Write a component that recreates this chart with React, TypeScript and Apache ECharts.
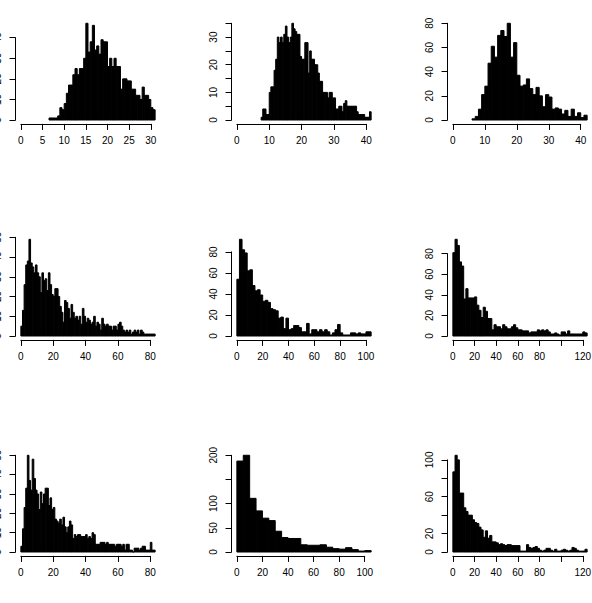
import React, { useEffect, useRef } from "react";
import * as echarts from "echarts";

// ---------- data: histogram counts (start of first bin, bin width, counts) ----------
const p1Start = 6.5;
const p1Width = 0.5;
const p1Counts = [1, 1, 1, 1, 2, 6, 5, 8, 13, 17, 17, 22, 25, 22, 25, 25, 30, 47, 33, 38, 46, 34, 36, 32, 39, 38, 38, 26, 30, 26, 30, 26, 26, 15, 20, 20, 19, 19, 15, 15, 12, 12, 10, 16, 12, 12, 10, 6, 5];

const p2Start = 7.5;
const p2Width = 0.5;
const p2Counts = [1, 4, 4, 2, 2, 10, 12, 12, 18, 22, 30, 28, 30, 28, 31, 34, 30, 28, 30, 35, 33, 32, 31, 31, 23, 22, 22, 28, 28, 17, 25, 22, 22, 20, 20, 17, 14, 14, 10, 10, 10, 8, 10, 10, 8, 8, 4, 4, 5, 5, 3, 6, 7, 5, 5, 5, 5, 5, 5, 3, 2, 2, 2, 2, 1, 1, 1, 3];

const p3Start = 6;
const p3Width = 1;
const p3Counts = [1, 3, 9, 21, 28, 47, 61, 52, 70, 74, 69, 80, 52, 64, 37, 28, 29, 34, 26, 21, 27, 20, 11, 21, 19, 9, 10, 9, 5, 8, 3, 9, 3, 6, 2, 4];

const p4Start = 0;
const p4Width = 1;
const p4Counts = [5, 13, 26, 36, 38, 49, 37, 35, 32, 36, 32, 30, 22, 32, 28, 29, 23, 32, 26, 21, 20, 24, 24, 20, 15, 12, 7, 18, 17, 14, 9, 16, 12, 9, 10, 8, 10, 6, 14, 10, 7, 9, 8, 6, 7, 10, 5, 7, 6, 3, 9, 6, 5, 6, 5, 5, 3, 5, 5, 3, 6, 7, 5, 3, 2, 3, 2, 3, 1, 2, 3, 2, 3, 1, 3, 2, 1, 1, 1, 1, 1, 1, 1];

const p5Start = 0;
const p5Width = 2;
const p5Counts = [54, 92, 82, 79, 62, 63, 48, 43, 44, 39, 33, 34, 32, 26, 25, 24, 17, 18, 7, 17, 6, 7, 10, 10, 8, 4, 4, 12, 2, 6, 6, 4, 6, 4, 6, 4, 1, 3, 6, 11, 3, 1, 1, 1, 3, 3, 2, 3, 2, 2, 4, 4];

const p6Start = 0;
const p6Width = 2;
const p6Counts = [81, 94, 88, 72, 68, 36, 46, 37, 37, 37, 38, 30, 25, 18, 28, 24, 17, 17, 6, 11, 9, 9, 7, 11, 9, 7, 7, 9, 11, 8, 6, 6, 5, 5, 5, 3, 4, 4, 4, 6, 5, 6, 5, 6, 4, 2, 2, 3, 2, 1, 4, 4, 2, 5, 2, 2, 2, 2, 2, 2, 4, 3];

const p7Start = 0;
const p7Width = 1;
const p7Counts = [3, 12, 23, 33, 50, 37, 32, 48, 38, 32, 30, 22, 31, 25, 30, 33, 33, 24, 28, 22, 23, 17, 16, 15, 17, 14, 18, 13, 10, 13, 16, 14, 7, 9, 8, 9, 9, 8, 8, 8, 9, 7, 8, 7, 10, 9, 4, 4, 4, 5, 5, 5, 4, 5, 4, 4, 4, 4, 3, 4, 4, 4, 3, 4, 1, 4, 4, 1, 1, 0, 2, 2, 2, 1, 2, 3, 3, 1, 1, 1, 5, 1, 1];

const p8Start = 0;
const p8Width = 5;
const p8Counts = [188, 200, 111, 85, 70, 65, 43, 30, 28, 28, 15, 14, 14, 15, 10, 7, 6, 9, 5, 2, 3];

const p9Start = 0;
const p9Width = 2;
const p9Counts = [87, 105, 100, 64, 64, 48, 44, 40, 40, 35, 32, 31, 27, 24, 16, 23, 15, 18, 11, 11, 10, 8, 9, 8, 7, 8, 8, 7, 7, 7, 7, 1, 1, 1, 8, 5, 4, 5, 6, 4, 2, 1, 2, 4, 4, 2, 1, 3, 1, 1, 2, 3, 2, 1, 2, 5, 4, 2, 1, 1, 1, 3];

// ---------- tick values and shown tick labels ----------
const p1XTicks = [0, 5, 10, 15, 20, 25, 30];
const p1XLabels = [0, 5, 10, 15, 20, 25, 30];
const p1YTicks = [0, 10, 20, 30, 40];
const p1YLabels = [0, 10, 20, 30, 40];

const p2XTicks = [0, 10, 20, 30, 40];
const p2XLabels = [0, 10, 20, 30, 40];
const p2YTicks = [0, 5, 10, 15, 20, 25, 30, 35];
const p2YLabels = [0, 10, 20, 30];

const p3XTicks = [0, 10, 20, 30, 40];
const p3XLabels = [0, 10, 20, 30, 40];
const p3YTicks = [0, 20, 40, 60, 80];
const p3YLabels = [0, 20, 40, 60, 80];

const p4XTicks = [0, 20, 40, 60, 80];
const p4XLabels = [0, 20, 40, 60, 80];
const p4YTicks = [0, 10, 20, 30, 40, 50];
const p4YLabels = [0, 10, 20, 30, 40, 50];

const p5XTicks = [0, 20, 40, 60, 80, 100];
const p5XLabels = [0, 20, 40, 60, 80, 100];
const p5YTicks = [0, 20, 40, 60, 80];
const p5YLabels = [0, 20, 40, 60, 80];

const p6XTicks = [0, 20, 40, 60, 80, 100, 120];
const p6XLabels = [0, 20, 40, 60, 80, 120];
const p6YTicks = [0, 20, 40, 60, 80];
const p6YLabels = [0, 20, 40, 60, 80];

const p7XTicks = [0, 20, 40, 60, 80];
const p7XLabels = [0, 20, 40, 60, 80];
const p7YTicks = [0, 10, 20, 30, 40, 50];
const p7YLabels = [0, 10, 20, 30, 40, 50];

const p8XTicks = [0, 20, 40, 60, 80, 100];
const p8XLabels = [0, 20, 40, 60, 80, 100];
const p8YTicks = [0, 50, 100, 150, 200];
const p8YLabels = [0, 50, 100, 200];

const p9XTicks = [0, 20, 40, 60, 80, 100, 120];
const p9XLabels = [0, 20, 40, 60, 80, 120];
const p9YTicks = [0, 20, 40, 60, 80, 100];
const p9YLabels = [0, 20, 60, 100];

type Panel = {
  start: number;
  width: number;
  counts: number[];
  xTicks: number[];
  xLabels: number[];
  yTicks: number[];
  yLabels: number[];
};

const panels: Panel[] = [
  { start: p1Start, width: p1Width, counts: p1Counts, xTicks: p1XTicks, xLabels: p1XLabels, yTicks: p1YTicks, yLabels: p1YLabels },
  { start: p2Start, width: p2Width, counts: p2Counts, xTicks: p2XTicks, xLabels: p2XLabels, yTicks: p2YTicks, yLabels: p2YLabels },
  { start: p3Start, width: p3Width, counts: p3Counts, xTicks: p3XTicks, xLabels: p3XLabels, yTicks: p3YTicks, yLabels: p3YLabels },
  { start: p4Start, width: p4Width, counts: p4Counts, xTicks: p4XTicks, xLabels: p4XLabels, yTicks: p4YTicks, yLabels: p4YLabels },
  { start: p5Start, width: p5Width, counts: p5Counts, xTicks: p5XTicks, xLabels: p5XLabels, yTicks: p5YTicks, yLabels: p5YLabels },
  { start: p6Start, width: p6Width, counts: p6Counts, xTicks: p6XTicks, xLabels: p6XLabels, yTicks: p6YTicks, yLabels: p6YLabels },
  { start: p7Start, width: p7Width, counts: p7Counts, xTicks: p7XTicks, xLabels: p7XLabels, yTicks: p7YTicks, yLabels: p7YLabels },
  { start: p8Start, width: p8Width, counts: p8Counts, xTicks: p8XTicks, xLabels: p8XLabels, yTicks: p8YTicks, yLabels: p8YLabels },
  { start: p9Start, width: p9Width, counts: p9Counts, xTicks: p9XTicks, xLabels: p9XLabels, yTicks: p9YTicks, yLabels: p9YLabels },
];

// ---------- layout ----------
const PANEL = 216;
const PLOT_W = 145;
const PLOT_H = 104.5;
const OFF_X = 15.5;
const OFF_Y = 19.4;
const FONT = "'Liberation Sans', Arial, Helvetica, sans-serif";

const labelStyle = { color: "#000", fontSize: 10, fontFamily: FONT };
const lineStyle = { color: "#000", width: 1 };

function buildOption() {
  const grid: any[] = [];
  const xAxis: any[] = [];
  const yAxis: any[] = [];
  const series: any[] = [];
  const gridBase = { containLabel: false, outerBoundsMode: "none" };

  panels.forEach((p, i) => {
    const col = i % 3;
    const row = Math.floor(i / 3);
    const left = OFF_X + PANEL * col;
    const top = OFF_Y + PANEL * row;
    const R = p.start + p.width * p.counts.length;
    const Y = Math.max(...p.counts);
    const sx = PLOT_W / (1.08 * R);
    const sy = PLOT_H / (1.08 * Y);

    // bars grid
    const g = grid.length;
    grid.push({ ...gridBase, left, top, width: PLOT_W, height: PLOT_H });
    xAxis.push({ gridIndex: g, type: "value", min: -0.04 * R, max: 1.04 * R, show: false });
    yAxis.push({ gridIndex: g, type: "value", min: -0.04 * Y, max: 1.04 * Y, show: false });
    const bins = p.counts.map((c, k) => [p.start + k * p.width, p.start + (k + 1) * p.width, c]);
    series.push({
      type: "custom",
      coordinateSystem: "cartesian2d",
      xAxisIndex: g,
      yAxisIndex: g,
      clip: false,
      encode: { x: [0, 1], y: 2 },
      data: bins,
      renderItem: (_params: any, api: any) => {
        const a = api.coord([api.value(0), api.value(2)]);
        const b = api.coord([api.value(1), 0]);
        return {
          type: "rect",
          shape: { x: a[0], y: a[1], width: b[0] - a[0], height: b[1] - a[1] },
          style: { fill: "#000", stroke: "#000", lineWidth: 1 },
        };
      },
    });

    // x axis grid
    const xLast = p.xTicks[p.xTicks.length - 1];
    const xStep = p.xTicks[1] - p.xTicks[0];
    grid.push({ ...gridBase, left: left + 0.04 * R * sx, top, width: xLast * sx, height: PLOT_H });
    xAxis.push({
      gridIndex: g + 1,
      type: "value",
      position: "bottom",
      min: 0,
      max: xLast,
      interval: xStep,
      axisLine: { show: true, onZero: false, lineStyle },
      axisTick: { show: true, inside: false, length: 6, lineStyle },
      splitLine: { show: false },
      axisLabel: {
        ...labelStyle,
        margin: 12,
        showMinLabel: true,
        showMaxLabel: true,
        formatter: (v: number) => (p.xLabels.includes(v) ? String(v) : ""),
      },
    });
    yAxis.push({ gridIndex: g + 1, type: "value", min: 0, max: 1, show: false });

    // y axis grid
    const yLast = p.yTicks[p.yTicks.length - 1];
    const yStep = p.yTicks[1] - p.yTicks[0];
    grid.push({ ...gridBase, left, top: top + (1.04 * Y - yLast) * sy, width: PLOT_W, height: yLast * sy });
    xAxis.push({ gridIndex: g + 2, type: "value", min: 0, max: 1, show: false });
    yAxis.push({
      gridIndex: g + 2,
      type: "value",
      position: "left",
      min: 0,
      max: yLast,
      interval: yStep,
      axisLine: { show: true, onZero: false, lineStyle },
      axisTick: { show: true, inside: false, length: 6, lineStyle },
      splitLine: { show: false },
      axisLabel: {
        ...labelStyle,
        rotate: 90,
        margin: 13.5,
        showMinLabel: true,
        showMaxLabel: true,
        formatter: (v: number) => (p.yLabels.includes(v) ? String(v) : ""),
      },
    });
  });

  return {
    animation: false,
    backgroundColor: "#fff",
    textStyle: { fontFamily: FONT },
    grid,
    xAxis,
    yAxis,
    series,
  };
}

export default function App() {
  const ref = useRef<HTMLDivElement>(null);
  useEffect(() => {
    if (!ref.current) return;
    const chart = echarts.init(ref.current, undefined, { renderer: "svg" });
    chart.setOption(buildOption() as any);
    return () => chart.dispose();
  }, []);
  return (
    <div
      ref={ref}
      style={{ position: "absolute", left: 0, top: 0, width: 592, height: 603, background: "#fff" }}
    />
  );
}
